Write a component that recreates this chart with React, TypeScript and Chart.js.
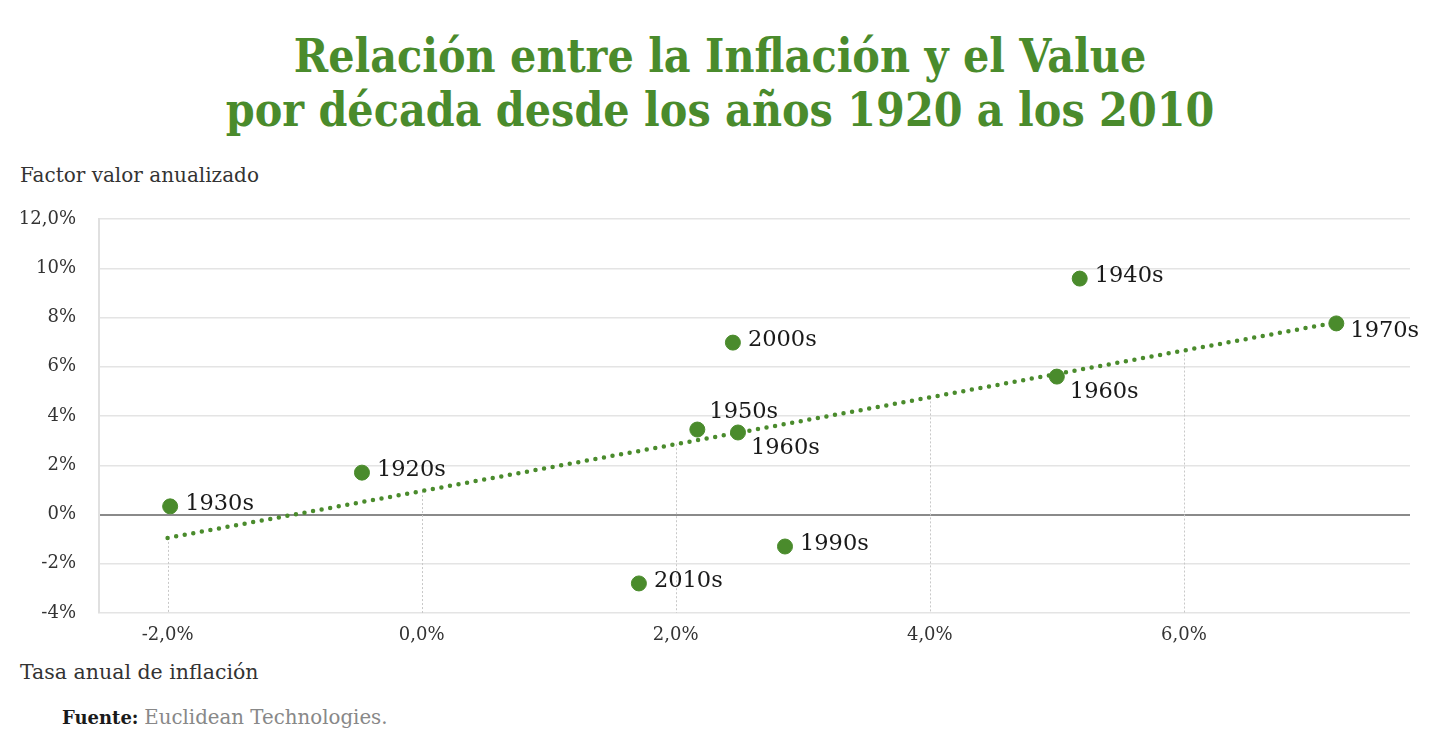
import React, { useEffect, useRef } from 'react';
import { Chart, registerables } from 'chart.js';

Chart.register(...registerables);

const decadeLabels = ['1930s', '1920s', '1950s', '1960s', '2000s', '1940s', '1970s', '1960s', '1990s', '2010s'];
const inflation = [-1.98, -0.47, 2.17, 2.49, 2.45, 5.18, 7.2, 5.0, 2.86, 1.71];
const valueFactor = [0.33, 1.7, 3.45, 3.33, 6.98, 9.58, 7.76, 5.6, -1.3, -2.8];
const labelPlacement = ['right', 'right', 'above', 'below', 'right', 'right', 'belowRight', 'below', 'right', 'right'];

const trendX = [-2.0, 7.2];
const trendY = [-0.95, 7.8];

const yTicks = [-4, -2, 0, 2, 4, 6, 8, 10, 12];
const yTickLabels = ['-4%', '-2%', '0%', '2%', '4%', '6%', '8%', '10%', '12,0%'];
const xTicks = [-2, 0, 2, 4, 6];
const xTickLabels = ['-2,0%', '0,0%', '2,0%', '4,0%', '6,0%'];

const GREEN = '#4a8b2c';
const SERIF = '"DejaVu Serif", "Liberation Serif", serif';

const placementOffset: Record<string, [number, number]> = {
  right: [15, -2],
  above: [12, -17],
  below: [13, 16],
  belowRight: [14, 8],
};

const trendAt = (x: number) =>
  trendY[0] + ((trendY[1] - trendY[0]) * (x - trendX[0])) / (trendX[1] - trendX[0]);

const dropLines = {
  id: 'dropLines',
  beforeDatasetsDraw(chart: any) {
    const { ctx, chartArea, scales } = chart;
    ctx.save();
    ctx.strokeStyle = '#c8c8c8';
    ctx.lineWidth = 1;
    ctx.setLineDash([2, 2]);
    xTicks.forEach((t) => {
      const px = Math.round(scales.x.getPixelForValue(t)) + 0.5;
      const py = scales.y.getPixelForValue(trendAt(t));
      ctx.beginPath();
      ctx.moveTo(px, py);
      ctx.lineTo(px, chartArea.bottom);
      ctx.stroke();
    });
    ctx.restore();
  },
};

const pointLabels = {
  id: 'pointLabels',
  afterDatasetsDraw(chart: any) {
    const { ctx } = chart;
    const meta = chart.getDatasetMeta(1);
    ctx.save();
    ctx.font = `22.5px ${SERIF}`;
    ctx.fillStyle = '#1a1a1a';
    ctx.textAlign = 'left';
    ctx.textBaseline = 'middle';
    meta.data.forEach((el: any, i: number) => {
      const [dx, dy] = placementOffset[labelPlacement[i]];
      ctx.fillText(decadeLabels[i], el.x + dx, el.y + dy);
    });
    ctx.restore();
  },
};

export default function App() {
  const canvasRef = useRef<HTMLCanvasElement | null>(null);

  useEffect(() => {
    if (!canvasRef.current) return;
    const chart = new Chart(canvasRef.current, {
      type: 'scatter',
      data: {
        datasets: [
          {
            type: 'line',
            label: 'Tendencia',
            data: trendX.map((x, i) => ({ x, y: trendY[i] })),
            borderColor: GREEN,
            borderWidth: 4.5,
            borderDash: [0, 8.7],
            borderCapStyle: 'round',
            pointRadius: 0,
            fill: false,
            order: 2,
          } as any,
          {
            label: 'Décadas',
            data: inflation.map((x, i) => ({ x, y: valueFactor[i] })),
            backgroundColor: GREEN,
            borderColor: GREEN,
            pointRadius: 7.5,
            pointHoverRadius: 7.5,
            order: 1,
          },
        ],
      },
      options: {
        animation: false,
        responsive: true,
        maintainAspectRatio: false,
        layout: { padding: { top: 24, right: 30, left: 0, bottom: 0 } },
        plugins: {
          legend: { display: false },
          tooltip: { enabled: false },
          title: { display: false },
        },
        scales: {
          x: {
            type: 'linear',
            min: -2.54,
            max: 7.78,
            afterBuildTicks: (scale: any) => {
              scale.ticks = xTicks.map((v) => ({ value: v }));
            },
            afterFit: (scale: any) => {
              scale.height = 42;
            },
            grid: { display: false, drawTicks: false },
            border: { display: false },
            ticks: {
              padding: 12,
              color: '#333',
              font: { family: SERIF, size: 18 },
              callback: (v: any) => {
                const i = xTicks.indexOf(Number(v));
                return i >= 0 ? xTickLabels[i] : '';
              },
            },
          },
          y: {
            type: 'linear',
            min: -4,
            max: 12,
            afterBuildTicks: (scale: any) => {
              scale.ticks = yTicks.map((v) => ({ value: v }));
            },
            afterFit: (scale: any) => {
              scale.width = 99;
              scale.paddingTop = 0;
              scale.paddingBottom = 0;
            },
            grid: {
              drawTicks: false,
              color: (c: any) => (c.tick && c.tick.value === 0 ? '#8a8a8a' : '#e4e4e4'),
              lineWidth: (c: any) => (c.tick && c.tick.value === 0 ? 2 : 1.5),
            },
            border: { display: true, color: '#e0e0e0', width: 2 },
            ticks: {
              padding: 23,
              color: '#333',
              font: { family: SERIF, size: 18 },
              callback: (v: any) => {
                const i = yTicks.indexOf(Number(v));
                return i >= 0 ? yTickLabels[i] : '';
              },
            },
          },
        },
      },
      plugins: [dropLines, pointLabels],
    });
    return () => chart.destroy();
  }, []);

  return (
    <div
      style={{
        position: 'absolute',
        left: 0,
        top: 0,
        width: 1440,
        height: 749,
        background: '#fff',
        overflow: 'hidden',
        fontFamily: SERIF,
      }}
    >
      <div
        style={{
          position: 'absolute',
          top: 29,
          left: 0,
          width: 1440,
          textAlign: 'center',
          color: GREEN,
          fontWeight: 'bold',
          fontSize: 46,
          lineHeight: '54px',
          fontStretch: 'condensed',
        }}
      >
        <div>Relación entre la Inflación y el Value</div>
        <div>por década desde los años 1920 a los 2010</div>
      </div>
      <div style={{ position: 'absolute', left: 20, top: 162, fontSize: 20, lineHeight: '26px', color: '#333' }}>
        Factor valor anualizado
      </div>
      <div style={{ position: 'absolute', left: 0, top: 195, width: 1440, height: 460 }}>
        <canvas ref={canvasRef} />
      </div>
      <div style={{ position: 'absolute', left: 20, top: 659, fontSize: 20.5, lineHeight: '26px', color: '#333' }}>
        Tasa anual de inflación
      </div>
      <div style={{ position: 'absolute', left: 62, top: 706, fontSize: 18, lineHeight: '24px', color: '#888' }}>
        <span style={{ fontWeight: 'bold', color: '#1a1a1a' }}>Fuente:</span>{' '}
        <span style={{ fontSize: 19.8 }}>Euclidean Technologies.</span>
      </div>
    </div>
  );
}
